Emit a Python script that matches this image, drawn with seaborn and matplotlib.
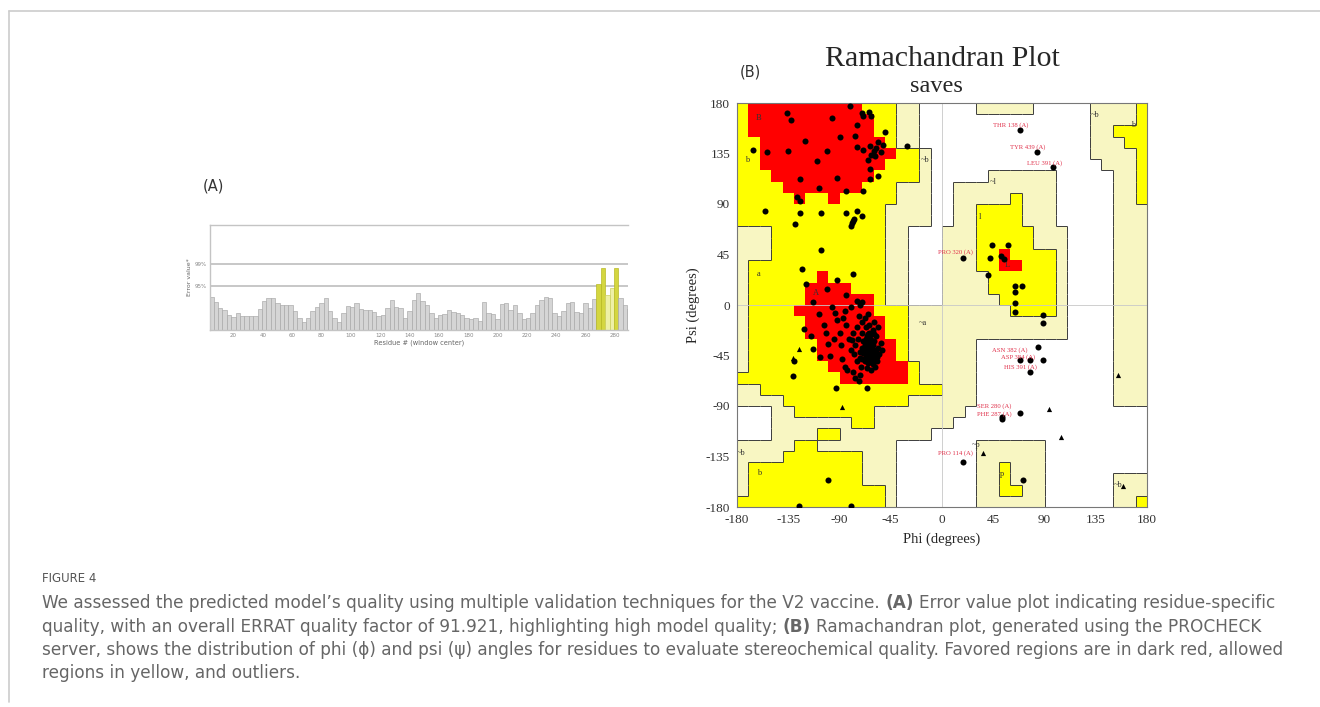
import numpy as np
import pandas as pd
import matplotlib
matplotlib.use("Agg")
import matplotlib.pyplot as plt
import seaborn as sns
from matplotlib.colors import ListedColormap
from matplotlib.collections import LineCollection
from matplotlib.lines import Line2D

# ---------------- data: (A) ERRAT error values (window centre, step 3) ----------------
RESIDUES = list(range(5, 291, 3))
ERROR_VALUES = [8.6, 7.3, 5.8, 5.2, 4.0, 3.4, 4.4, 3.5, 3.5, 3.5, 3.6, 5.5, 7.5, 8.2, 8.3, 7.0,
                6.5, 6.6, 6.5, 5.0, 3.0, 2.2, 3.0, 4.8, 6.0, 7.0, 8.3, 5.0, 3.0, 2.2, 4.5, 6.2,
                6.0, 7.0, 5.4, 5.2, 5.2, 4.6, 3.5, 3.8, 5.8, 7.8, 6.0, 5.7, 3.2, 4.8, 7.8, 9.6,
                7.6, 6.6, 4.5, 3.2, 3.9, 4.2, 5.2, 4.7, 4.5, 4.0, 3.0, 2.8, 3.0, 2.4, 7.3, 4.5,
                4.2, 2.8, 6.8, 7.0, 5.2, 6.5, 4.5, 2.8, 3.0, 4.5, 6.5, 7.8, 8.6, 8.3, 4.4, 3.6,
                5.0, 7.0, 7.2, 4.6, 4.4, 7.0, 5.7, 8.0, 12.0, 16.0, 9.0, 11.0, 16.0, 8.3, 6.5, 5.5]
PALE_FLAGGED = [275, 278]
LIMIT_95, LIMIT_99 = 11.38, 17.19
ERRAT_TICKS = list(range(20, 281, 20))

# ---------------- data: (B) Ramachandran region map, 10 deg cells, psi 180 -> -180 ----------------
# R core, Y allowed, L generously allowed, . disallowed
RAMA_GRID = [
    "YRRRRRRRRRRYYYLL.....LLLLL.....LLLLY",
    "YRRRRRRRRRRRYYLL...............LLLLY",
    "YRRRRRRRRRRRYYLL...............LLYYY",
    "YYRRRRRRRRRRRYLL...............LLLYY",
    "YYRRRRRRRRRRRRYYL..............LLLLY",
    "YYRRRRRRRRRRRYYYL...............LLLY",
    "YYYRRRRRRRRRYYYYL.....LLLLLL.....LLY",
    "YYYYRRRRRRRYYYLLL..LLLLLLLLL.....LLY",
    "YYYYYRYYRYYYYYLLL..LLLLLYLLL.....LLY",
    "YYYYYYYYYYYYYLLLL..LLYYYYLLL.....LLL",
    "YYYYYYYYYYYYYLLLL..LLYYYYLLL.....LLL",
    "LLLYYYYYYYYYYLL...LLLYYYYYLLL....LLL",
    "LLLYYYYYYYYYYLL...LLLYYYYYLLL....LLL",
    "LLLYYYYYYYYYYLL...LLLYYRYYYYL....LLL",
    "LYYYYYYYYYYYYLL...LLLYYRRYYYL....LLL",
    "LYYYYYYRYYYYYLL...LLLLYYYYYYL....LLL",
    "LYYYYYRRRRYYYLL...LLLLYYYYYYL....LLL",
    "LYYYYYRRRRRRYLL...LLLLLYYYYYL....LLL",
    "LYYYYRRRRRRRYYYLLLLLLLLLYYYYL....LLL",
    "LYYYYYRRRRRRRYYLLLLLLLLLLLLLL....LLL",
    "LYYYYYRRRRRRRYYLLLLLLLLLLLLLL....LLL",
    "LYYYYYYRRRRRRRYLLLLLL............LLL",
    "LYYYYYYRRRRRRRYLLLLLL............LLL",
    "LYYYYYYYRRRRRRRYLLLLL............LLL",
    "YYYYYYYYYRRRRRRYLLLLL............LLL",
    "LLYYYYYYYYYYYYYYYYLLL............LLL",
    "LLLLYYYYYYYYYYYLLLLLL............LLL",
    "...LLYYYYYYYLLLLLLLL................",
    "...LLLLLLLYYLLLLLLL.................",
    "...LLLLYYLLLLLLLL...................",
    "LLLLLYYLLLLLLL.......LLLLLL.........",
    "LLLLYYYYYYYLLL.......LLLLLL.........",
    "LYYYYYYYYYYLLL.......LLYLLL.........",
    "LYYYYYYYYYYLLL.......LLYLLL......LLL",
    "LYYYYYYYYYYYYL.......LLYYLL......LLL",
    "YYYYYYYYYYYYYL.......LLLLLL......LLY",
]
assert all(len(r) == 36 for r in RAMA_GRID) and len(RAMA_GRID) == 36

# residues (non-glycine)
PHI = [-81, -70, -69, -64, -62, -136, -133, -120, -97, -90, -75, -76, -75, -69, -154, -135, -110, -101,
       -63, -60, -58, -56, -54, -62, -52, -59, -50, -31, -65, -63, -63, -56, -125, -92, -84, -69,
       -108, -127, -125, -155, -125, -129, -106, -84, -75, -70, -79, -80, -78, -77, -106, -123, -78,
       -101, -92, -119, -84, -75, -70, -166,
       -113, -104, -121, -94, -102, -89, -98, -113, -107, -130, -131, -93, -66, -73, -57, -54, -79,
       -92, -85, -80, -72, -65, -100, -126, -80,
       -68, -65, -63, -66, -62, -60, -64, -67, -70, -61, -58, -63, -66, -60, -69, -72, -57, -62,
       -65, -59, -64, -61, -67, -70, -74, -76, -72, -68, -56, -55, -64, -60, -70, -75, -78, -80,
       -77, -62, -66, -58, -53, -63, -67, -61, -65, -69, -64, -62, -66, -59, -82, -84, -73, -68,
       -56, -71, -75, -60, -67, -63, -90, -95, -88, -85, -78, -72, -87, -97, -108, -115, -100, -83, -76,
       -66, -62, -68, -64, -60, -70, -65, -61, -67, -63,
       44, 58, 42, 52, 54, 40, 64, 70, 64, 64, 64, 89, 89,
       68.5, 83, 97.7, 18.8, 84.6, 68.5, 77.3, 89, 77.3, 68.5, 52.4, 52.4, 18.8, 71.5]
PSI = [177, 171, 168, 172, 168, 171, 165, 146, 167, 150, 160, 151, 141, 138, 136, 137, 128, 137,
       142, 137, 140, 145, 136, 134, 143, 133, 154, 142, 129, 121, 112, 115, 112, 113, 102, 102,
       104, 96, 93, 84, 82, 72, 82, 82, 84, 79, 73, 70, 75, 77, 49, 32, 28,
       14, 22, 19, 9, 4, 3, 138,
       3, -18, -21, -7, -25, -36, -45, -39, -46, -50, -63, -74, -74, -68, -50, -34, -31,
       -13, -5, -2, 0, -8, -156, -179, -179,
       -40, -42, -38, -35, -44, -40, -47, -45, -38, -36, -42, -30, -28, -32, -32, -42, -46, -50,
       -52, -55, -25, -22, -20, -25, -30, -36, -47, -50, -38, -44, -18, -15, -15, -20, -25, -40,
       -44, -58, -56, -28, -40, -34, -38, -46, -44, -43, -41, -39, -48, -49, -30, -18, -10, -12,
       -20, -55, -50, -26, -30, -27, -25, -30, -48, -55, -60, -62, -12, -2, -8, -28, -35, -58, -65,
       -33, -31, -36, -37, -43, -48, -26, -53, -41, -45,
       53.5, 53.5, 41.6, 44, 41, 27, 17, 17, 12, 1.5, -6, -9, -16,
       156, 136, 123, 41.6, -37, -49, -49, -49, -60, -96, -102, -100, -140, -155.5]
# glycines (triangles)
GLY_PHI = [-88, 94, 104.5, 154.8, 159, 36, -126, -131]
GLY_PSI = [-91, -93, -118, -62.4, -161, -132, -39, -47]

OUTLIER_LABELS = ["THR 138 (A)", "TYR 439 (A)", "LEU 391 (A)", "PRO 320 (A)", "ASN 382 (A)",
                  "ASP 384 (A)", "HIS 391 (A)", "SER 280 (A)", "PHE 287 (A)", "PRO 114 (A)"]
LABEL_PHI = [45, 60, 75, -3.5, 44, 52, 54, 31, 31, -3.5]
LABEL_PSI = [160, 141, 126, 47, -40, -46, -55, -90, -97, -132]

REGION_TEXT = ["B", "b", "~b", "A", "a", "~a", "l", "~l", "~b", "b", "~b", "b", "p", "~p", "~b", "L"]
REGION_PHI = [-161, -171, -15, -111, -161, -17, 33, 45, 134, 168, -176, -161, 53, 30, 155, 57]
REGION_PSI = [167, 129, 129, 11, 28, -16, 78, 110, 169, 160, -132, -150, -151, -125, -160, 36]

PHI_TICKS = [-180, -135, -90, -45, 0, 45, 90, 135, 180]

CAPTION = [
    [("We assessed the predicted model\u2019s quality using multiple validation techniques for the V2 vaccine.", False),
     ("(A)", True), ("Error value plot indicating residue-specific", False)],
    [("quality, with an overall ERRAT quality factor of 91.921, highlighting high model quality;", False),
     ("(B)", True), ("Ramachandran plot, generated using the PROCHECK", False)],
    [("server, shows the distribution of phi (\u03d5) and psi (\u03c8) angles for residues to evaluate stereochemical quality. Favored regions are in dark red, allowed", False)],
    [("regions in yellow, and outliers.", False)],
]

# ---------------- figure ----------------
sns.set_style("white")
plt.rcParams["font.family"] = ["DejaVu Sans"]
SERIF = "Liberation Serif"

W, H = 1320, 707
fig = plt.figure(figsize=(W / 100, H / 100), dpi=100)


def fx(x):
    return x / W


def fy(y):
    return 1 - y / H


# outer frame
fig.add_artist(Line2D([fx(9), 1], [fy(11), fy(11)], color="#cccccc", lw=1.2))
fig.add_artist(Line2D([fx(9), fx(9)], [fy(11), fy(702)], color="#cccccc", lw=1.2))

# ---------------- (A) ERRAT ----------------
axA = fig.add_axes([fx(210), fy(330), (628 - 210) / W, (330 - 225) / H])
dfA = pd.DataFrame({"residue": RESIDUES, "error": ERROR_VALUES})
sns.barplot(data=dfA, x="residue", y="error", native_scale=True, orient="x", errorbar=None,
            color="#d5d5d5", saturation=1, edgecolor="#a6a6a6", linewidth=0.45, width=1.0, ax=axA)
for p in axA.patches:
    centre = p.get_x() + p.get_width() / 2
    if p.get_height() > LIMIT_95:
        p.set_facecolor("#d4d640")
        p.set_edgecolor("#b3b51c")
    elif any(abs(centre - r) < 0.5 for r in PALE_FLAGGED):
        p.set_facecolor("#eef0a6")
        p.set_edgecolor("#c9cc55")
axA.axhline(LIMIT_95, color="#b8b8b8", lw=1.1, zorder=0)
axA.axhline(LIMIT_99, color="#b8b8b8", lw=1.1, zorder=0)
axA.set_xlim(4, 289)
axA.set_ylim(0, 27.2)
axA.set_xticks(ERRAT_TICKS)
axA.set_xticklabels([str(t) for t in ERRAT_TICKS], fontsize=4, color="#666666")
axA.set_yticks([LIMIT_95, LIMIT_99])
axA.set_yticklabels(["95%", "99%"], fontsize=4, color="#666666")
axA.tick_params(length=1.5, width=0.5, pad=1, colors="#888888")
axA.set_xlabel("Residue # (window center)", fontsize=4.8, color="#666666", labelpad=1)
axA.set_ylabel("Error value*", fontsize=4.5, color="#666666", labelpad=2)
for side in ["top", "left", "bottom"]:
    axA.spines[side].set_color("#c4c4c4")
    axA.spines[side].set_linewidth(1.0)
axA.spines["right"].set_visible(False)
fig.text(fx(213), fy(186), "(A)", fontsize=10.5, color="#333333", ha="center", va="center")

# ---------------- (B) Ramachandran ----------------
axB = fig.add_axes([fx(737), fy(507), (1147 - 737) / W, (507 - 103) / H])
code = {".": 0, "L": 1, "Y": 2, "R": 3}
Z = np.array([[code[c] for c in row] for row in RAMA_GRID])[::-1]
edges = np.arange(-180, 181, 10)
cmap = ListedColormap(["#ffffff", "#f8f6c2", "#ffff00", "#ff0000"])
axB.pcolormesh(edges, edges, Z, cmap=cmap, vmin=-0.5, vmax=3.5, zorder=0)

# region borders (not drawn round the red core)
segs = []
for j in range(36):
    for i in range(36):
        a = Z[j, i]
        if i < 35:
            b = Z[j, i + 1]
            if a != b and a != 3 and b != 3:
                segs.append([(edges[i + 1], edges[j]), (edges[i + 1], edges[j + 1])])
        if j < 35:
            b = Z[j + 1, i]
            if a != b and a != 3 and b != 3:
                segs.append([(edges[i], edges[j + 1]), (edges[i + 1], edges[j + 1])])
axB.add_collection(LineCollection(segs, colors="#3c3c3c", linewidths=0.7, zorder=1))
axB.axhline(0, color="#c8c8c8", lw=0.6, zorder=1)
axB.axvline(0, color="#c8c8c8", lw=0.6, zorder=1)

dfB = pd.DataFrame({"phi": PHI, "psi": PSI})
sns.scatterplot(data=dfB, x="phi", y="psi", marker="o", color="black", s=19, linewidth=0,
                ax=axB, zorder=3)
dfG = pd.DataFrame({"phi": GLY_PHI, "psi": GLY_PSI})
sns.scatterplot(data=dfG, x="phi", y="psi", marker="^", color="black", s=14, linewidth=0,
                ax=axB, zorder=3)

for t, x, y in zip(OUTLIER_LABELS, LABEL_PHI, LABEL_PSI):
    axB.text(x, y, t, fontsize=4.8, color="#e0304a", family=SERIF, ha="left", va="center", zorder=4)
for t, x, y in zip(REGION_TEXT, REGION_PHI, REGION_PSI):
    axB.text(x, y, t, fontsize=6, color="#333333", family=SERIF, ha="center", va="center", zorder=2)

axB.set_xlim(-180, 180)
axB.set_ylim(-180, 180)
axB.set_xticks(PHI_TICKS)
axB.set_yticks(PHI_TICKS)
axB.set_xticklabels([str(t) for t in PHI_TICKS], family=SERIF, fontsize=9.5)
axB.set_yticklabels([str(t) for t in PHI_TICKS], family=SERIF, fontsize=9.5)
axB.tick_params(direction="out", length=3, width=0.7, pad=2, colors="#333333")
axB.set_xlabel("Phi (degrees)", family=SERIF, fontsize=10.5, labelpad=5)
axB.set_ylabel("Psi (degrees)", family=SERIF, fontsize=10.5, labelpad=4)
for s in axB.spines.values():
    s.set_color("#777777")
    s.set_linewidth(0.8)

fig.text(fx(942), fy(59), "Ramachandran Plot", family=SERIF, fontsize=21.5, ha="center", va="center")
fig.text(fx(936), fy(87), "saves", family=SERIF, fontsize=17.5, ha="center", va="center")
fig.text(fx(750), fy(72), "(B)", fontsize=10.5, color="#333333", ha="center", va="center")

# ---------------- caption ----------------
renderer = fig.canvas.get_renderer()
CAP_COLOR = "#666666"


def width_of(s, fs, bold=False):
    t = fig.text(0, 0, s, fontsize=fs, fontweight="bold" if bold else "normal")
    w = t.get_window_extent(renderer).width
    t.remove()
    return w


def line_width(parts, fs):
    gap = width_of("a a", fs) - width_of("aa", fs)
    return sum(width_of(s, fs, b) for s, b in parts) + gap * (len(parts) - 1)


fs0 = 10
cap_fs = fs0 * 1234 / line_width(CAPTION[0], fs0)
gap = width_of("a a", cap_fs) - width_of("aa", cap_fs)

fig.text(fx(42), fy(578), "FIGURE 4", fontsize=8.5, color="#555555", ha="left", va="center")
for y, parts in zip([603, 627, 650, 673], CAPTION):
    x = 42
    for k, (s, bold) in enumerate(parts):
        if k:
            x += gap
        t = fig.text(fx(x), fy(y), s, fontsize=cap_fs, color=CAP_COLOR,
                     fontweight="bold" if bold else "normal", ha="left", va="center")
        x += t.get_window_extent(renderer).width

fig.savefig("out.png", dpi=100)
